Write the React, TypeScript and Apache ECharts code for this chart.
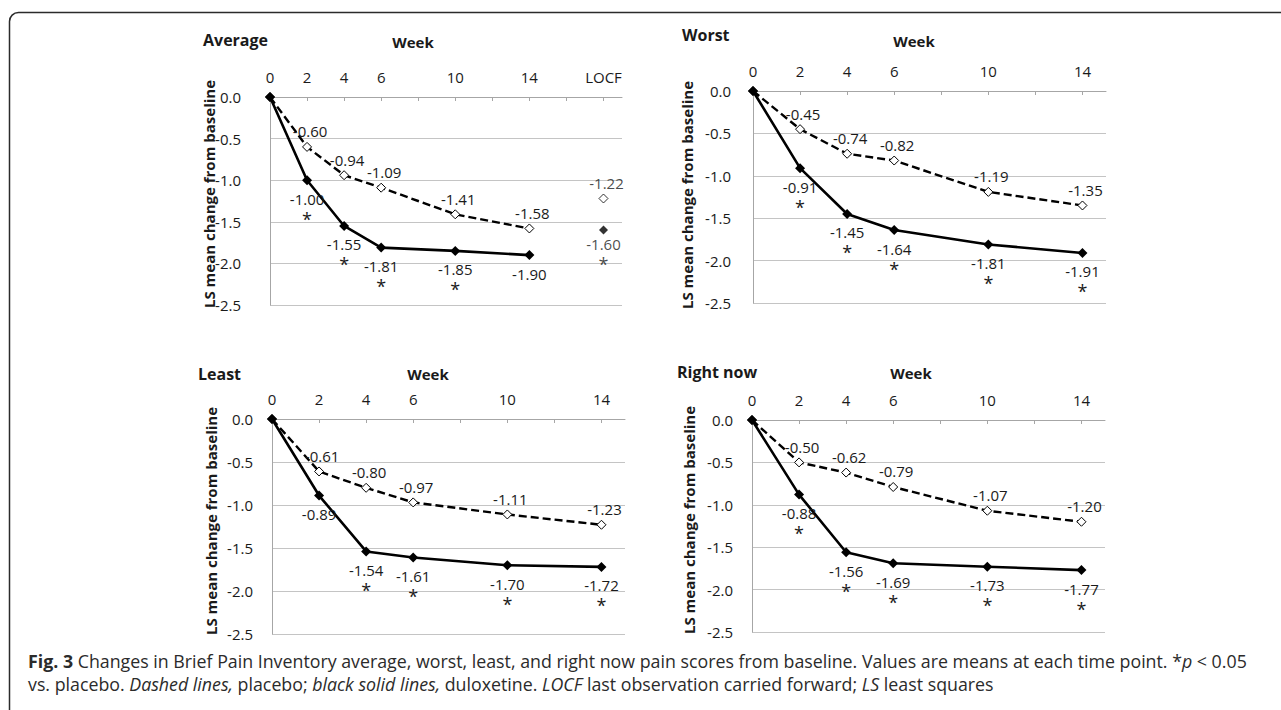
import React, { useEffect, useRef } from "react";
import * as echarts from "echarts";

// ---------- data ----------
const weeks = [0, 2, 4, 6, 10, 14];
const tickWeeks = [0, 2, 4, 6, 8, 10, 12, 14];
const tickWeeksLocf = [0, 2, 4, 6, 8, 10, 12, 14, 16, 18];
const labelWeeks = [0, 2, 4, 6, 10, 14];
const labelWeeksLocf = [0, 2, 4, 6, 10, 14, 18];
const locfWeek = 18;
const locfTickLabel = "LOCF";

const panelTitles = ["Average", "Worst", "Least", "Right now"];
const xAxisTitle = "Week";
const yAxisTitle = "LS mean change from baseline";

const avgPlacebo = [0, -0.6, -0.94, -1.09, -1.41, -1.58];
const avgDulox = [0, -1.0, -1.55, -1.81, -1.85, -1.9];
const avgSig = [false, true, true, true, true, false];
const avgLocfPlacebo = -1.22;
const avgLocfDulox = -1.6;
const avgLocfSig = true;

const worstPlacebo = [0, -0.45, -0.74, -0.82, -1.19, -1.35];
const worstDulox = [0, -0.91, -1.45, -1.64, -1.81, -1.91];
const worstSig = [false, true, true, true, true, true];

const leastPlacebo = [0, -0.61, -0.8, -0.97, -1.11, -1.23];
const leastDulox = [0, -0.89, -1.54, -1.61, -1.7, -1.72];
const leastSig = [false, false, true, true, true, true];

const nowPlacebo = [0, -0.5, -0.62, -0.79, -1.07, -1.2];
const nowDulox = [0, -0.88, -1.56, -1.69, -1.73, -1.77];
const nowSig = [false, true, true, true, true, true];

const captionLine1 =
  "{b|Fig. 3} Changes in Brief Pain Inventory average, worst, least, and right now pain scores from baseline. Values are means at each time point. *{i|p} < 0.05";
const captionLine2 =
  "vs. placebo. {i|Dashed lines,} placebo; {i|black solid lines,} duloxetine. {i|LOCF} last observation carried forward; {i|LS} least squares";

// ---------- layout ----------
const FONT = "'Open Sans', 'Noto Sans', sans-serif";
const TXT = "#1a1a1a";
const AXIS = "#a6a6a6";
const GRID = "#c4c4c4";
const LABEL_SIZE = 15;
const CAP_SIZE = 17.8;
const CAP_LH = 20;
const CAP_COLOR = "#2b2b2b";

const panels = [
  {
    placebo: avgPlacebo, dulox: avgDulox, sig: avgSig, locf: true,
    left: 270, top: 97, width: 352, height: 208, xMax: 19, yMargin: 29,
    title: [203, 40], week: [413, 42], yName: [209, 194],
  },
  {
    placebo: worstPlacebo, dulox: worstDulox, sig: worstSig, locf: false,
    left: 753, top: 91, width: 353, height: 212, xMax: 15, yMargin: 22,
    title: [682, 35], week: [914, 41], yName: [687, 195],
  },
  {
    placebo: leastPlacebo, dulox: leastDulox, sig: leastSig, locf: false,
    left: 272, top: 419, width: 353, height: 215, xMax: 15, yMargin: 19,
    title: [198, 374], week: [428, 374], yName: [211, 521],
  },
  {
    placebo: nowPlacebo, dulox: nowDulox, sig: nowSig, locf: false,
    left: 752, top: 420, width: 353, height: 212, xMax: 15, yMargin: 19,
    title: [677, 372], week: [911, 373], yName: [689, 520],
  },
];

const labelRich = {
  v: { fontSize: LABEL_SIZE, color: TXT, fontFamily: FONT, lineHeight: 17 },
  s: { fontSize: 18, color: TXT, fontFamily: FONT, lineHeight: 23 },
};

function buildOption() {
  const grid: any[] = [];
  const xAxis: any[] = [];
  const yAxis: any[] = [];
  const series: any[] = [];
  const graphic: any[] = [];

  graphic.push({
    type: "rect",
    shape: { x: 9.5, y: 12.5, width: 1400, height: 800, r: [9, 0, 0, 0] },
    style: { fill: "none", stroke: "#2b2b2b", lineWidth: 1.5 },
    silent: true,
  });

  panels.forEach((p, i) => {
    grid.push({ left: p.left, top: p.top, width: p.width, height: p.height });
    xAxis.push({
      type: "value",
      gridIndex: i,
      position: "top",
      min: 0,
      max: p.xMax,
      interval: 2,
      axisLine: { show: true, onZero: false, lineStyle: { color: AXIS, width: 1 } },
      axisTick: {
        show: true,
        inside: true,
        length: 4,
        lineStyle: { color: AXIS },
        customValues: p.locf ? tickWeeksLocf : tickWeeks,
      },
      splitLine: { show: false },
      axisLabel: {
        customValues: p.locf ? labelWeeksLocf : labelWeeks,
        margin: 13,
        fontSize: LABEL_SIZE,
        color: TXT,
        fontFamily: FONT,
        formatter: (v: number) => (v === locfWeek ? locfTickLabel : String(v)),
      },
    });
    yAxis.push({
      type: "value",
      gridIndex: i,
      min: -2.5,
      max: 0,
      interval: 0.5,
      axisLine: { show: true, onZero: false, lineStyle: { color: AXIS, width: 1 } },
      axisTick: { show: false },
      splitLine: { show: true, lineStyle: { color: GRID, width: 1 } },
      axisLabel: {
        margin: p.yMargin,
        fontSize: LABEL_SIZE,
        color: TXT,
        fontFamily: FONT,
        formatter: (v: number) => v.toFixed(1),
      },
    });

    series.push({
      type: "line",
      xAxisIndex: i,
      yAxisIndex: i,
      data: weeks.map((w, k) => [w, p.placebo[k]]),
      symbol: "diamond",
      symbolSize: 9,
      itemStyle: { color: "#ffffff", borderColor: "#000000", borderWidth: 1 },
      lineStyle: { color: "#000000", width: 2.4, type: [8, 4] },
      label: {
        show: true,
        position: "top",
        distance: 3,
        offset: [3, 0],
        fontSize: LABEL_SIZE,
        color: TXT,
        fontFamily: FONT,
        formatter: (q: any) => (q.dataIndex === 0 ? "" : q.value[1].toFixed(2)),
      },
      z: 3,
    });
    series.push({
      type: "line",
      xAxisIndex: i,
      yAxisIndex: i,
      data: weeks.map((w, k) => [w, p.dulox[k]]),
      symbol: "diamond",
      symbolSize: 10,
      itemStyle: { color: "#000000" },
      lineStyle: { color: "#000000", width: 2.6 },
      label: {
        show: true,
        position: "bottom",
        distance: 5,
        rich: labelRich,
        formatter: (q: any) =>
          q.dataIndex === 0
            ? ""
            : "{v|" + q.value[1].toFixed(2) + "}" + (p.sig[q.dataIndex] ? "\n{s|*}" : ""),
      },
      z: 4,
    });

    if (p.locf) {
      series.push({
        type: "scatter",
        xAxisIndex: i,
        yAxisIndex: i,
        data: [[locfWeek, avgLocfPlacebo]],
        symbol: "diamond",
        symbolSize: 9,
        itemStyle: { color: "#ffffff", borderColor: "#000000", borderWidth: 1 },
        label: {
          show: true,
          position: "top",
          distance: 3,
          offset: [3, 0],
          fontSize: LABEL_SIZE,
          color: TXT,
          fontFamily: FONT,
          formatter: (q: any) => q.value[1].toFixed(2),
        },
        z: 3,
      });
      series.push({
        type: "scatter",
        xAxisIndex: i,
        yAxisIndex: i,
        data: [[locfWeek, avgLocfDulox]],
        symbol: "diamond",
        symbolSize: 9,
        itemStyle: { color: "#000000" },
        label: {
          show: true,
          position: "bottom",
          distance: 1,
          rich: labelRich,
          formatter: (q: any) =>
            "{v|" + q.value[1].toFixed(2) + "}" + (avgLocfSig ? "\n{s|*}" : ""),
        },
        z: 4,
      });
    }

    graphic.push({
      type: "text",
      x: p.title[0],
      y: p.title[1],
      style: {
        text: panelTitles[i],
        font: "bold 16px " + FONT,
        fill: TXT,
        align: "left",
        verticalAlign: "middle",
      },
    });
    graphic.push({
      type: "text",
      x: p.week[0],
      y: p.week[1],
      style: {
        text: xAxisTitle,
        font: "bold 15px " + FONT,
        fill: TXT,
        align: "center",
        verticalAlign: "middle",
      },
    });
    graphic.push({
      type: "text",
      x: p.yName[0],
      y: p.yName[1],
      rotation: Math.PI / 2,
      style: {
        text: yAxisTitle,
        font: "bold 15px " + FONT,
        fill: TXT,
        align: "center",
        verticalAlign: "middle",
      },
    });
  });

  const capRich = {
    b: { fontWeight: "bold", fontSize: CAP_SIZE, lineHeight: CAP_LH, fontFamily: FONT, fill: CAP_COLOR },
    i: { fontStyle: "italic", fontSize: CAP_SIZE, lineHeight: CAP_LH, fontFamily: FONT, fill: CAP_COLOR },
  };
  [captionLine1, captionLine2].forEach((line, k) => {
    graphic.push({
      type: "text",
      x: 28,
      y: 661 + k * 23,
      style: {
        text: line,
        rich: capRich,
        fontSize: CAP_SIZE,
        lineHeight: CAP_LH,
        fontFamily: FONT,
        fill: CAP_COLOR,
        verticalAlign: "middle",
      },
    });
  });

  return { animation: false, backgroundColor: "#ffffff", grid, xAxis, yAxis, series, graphic };
}

export default function App() {
  const ref = useRef<HTMLDivElement>(null);
  useEffect(() => {
    if (!ref.current) return;
    const chart = echarts.init(ref.current, undefined, { renderer: "svg" });
    chart.setOption(buildOption() as any);
    return () => chart.dispose();
  }, []);
  return (
    <div
      ref={ref}
      style={{ position: "fixed", left: 0, top: 0, width: 1281, height: 710, background: "#fff" }}
    />
  );
}
